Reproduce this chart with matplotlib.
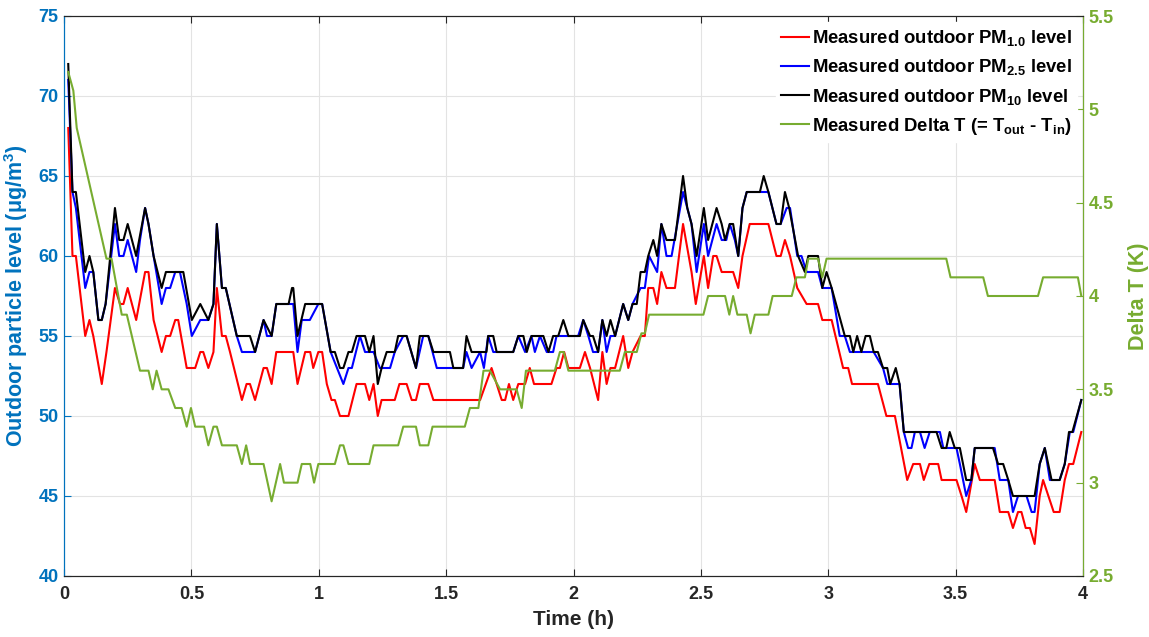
"""Outdoor PM levels and indoor/outdoor temperature difference over a 4 h run."""
import matplotlib

matplotlib.use("Agg")
import matplotlib.pyplot as plt
from matplotlib.ticker import FuncFormatter

# time in minutes
pm10_t = [1.0, 2.0, 2.8, 5.0, 6.0, 6.9, 8.1, 8.9, 9.8, 12.0, 13.0, 14.0, 15.0, 17.0, 19.1, 19.9, 21.1,
          23.0, 24.0, 28.1, 30.1, 32.1, 34.0, 35.2, 36.0, 37.2, 38.1, 40.7, 43.8, 45.0, 47.0, 48.9,
          50.0, 52.9, 53.7, 54.0, 55.0, 56.8, 57.9, 60.8, 62.8, 63.8, 65.0, 65.8, 67.0, 67.8, 68.9,
          70.9, 71.9, 72.9, 73.9, 74.8, 76.0, 77.9, 78.7, 80.7, 82.9, 83.8, 85.8, 87.0, 90.9, 91.7,
          94.0, 94.8, 96.0, 99.5, 99.9, 101.1, 101.9, 105.8, 107.0, 108.2, 109.0, 110.1, 112.9, 114.1,
          115.2, 116.4, 117.6, 118.8, 121.5, 122.3, 123.9, 124.6, 125.8, 126.8, 127.8, 128.7, 129.8,
          131.7, 132.9, 133.9, 134.9, 135.8, 136.8, 137.6, 138.8, 139.7, 140.7, 141.9, 143.9, 145.8,
          146.8, 147.8, 149.0, 150.7, 151.7, 153.7, 154.9, 155.7, 156.8, 157.6, 158.8, 159.8, 160.8,
          163.9, 164.8, 165.9, 167.8, 168.8, 169.8, 170.8, 172.9, 174.5, 175.3, 177.6, 178.6, 179.6,
          180.8, 183.9, 185.1, 185.9, 186.8, 187.8, 188.8, 189.8, 190.7, 191.7, 192.9, 193.9, 194.6,
          195.9, 196.8, 197.8, 205.5, 206.7, 207.8, 208.6, 209.8, 211.0, 212.5, 213.7, 214.5, 218.8,
          220.0, 221.2, 222.4, 223.5, 228.6, 229.8, 231.0, 232.6, 234.5, 235.7, 236.7, 237.5, 239.6]
pm10_v = [72, 64, 64, 59, 60, 59, 56, 56, 57, 63, 61, 61, 62, 60, 63, 62, 60,
          58, 59, 59, 56, 57, 56, 57, 62, 58, 58, 55, 55, 54, 56, 55,
          57, 57, 58, 58, 55, 57, 57, 57, 54, 54, 53, 53, 54, 54, 55,
          55, 54, 55, 52, 53, 54, 54, 55, 55, 53, 55, 55, 54, 54, 53,
          53, 55, 54, 54, 55, 55, 54, 54, 55, 55, 54, 55, 55, 54,
          55, 55, 56, 55, 55, 56, 55, 55, 54, 56, 55, 56, 55,
          57, 56, 57, 57, 59, 59, 60, 61, 60, 62, 61, 61, 65,
          63, 62, 60, 63, 61, 63, 62, 61, 62, 62, 60, 63, 64,
          64, 65, 64, 62, 62, 64, 63, 60, 59, 60, 60, 58, 59,
          58, 55, 55, 54, 55, 54, 55, 55, 54, 54, 53, 53, 52,
          53, 52, 49, 49, 48, 48, 49, 48, 48, 46, 46, 48, 48,
          47, 47, 46, 45, 45, 47, 48, 46, 46, 47, 49, 49, 51]

pm25_t = [1.0, 2.0, 2.8, 5.0, 6.0, 6.9, 8.1, 8.9, 9.8, 12.0, 13.0, 14.0, 15.0, 17.0, 17.9, 19.1, 19.9,
          21.1, 23.0, 24.0, 25.0, 26.2, 27.3, 28.9, 30.1, 32.1, 34.0, 35.2, 36.0, 37.2, 38.1, 40.7,
          41.9, 43.8, 45.0, 47.0, 47.8, 48.9, 50.0, 54.0, 55.0, 56.0, 57.9, 59.9, 60.8, 62.8, 65.8,
          67.0, 67.8, 69.7, 70.9, 72.9, 74.4, 76.8, 77.9, 79.9, 80.7, 82.9, 84.6, 85.8, 87.8, 94.0,
          94.8, 96.0, 98.0, 98.9, 99.9, 101.1, 105.8, 107.0, 108.6, 110.1, 110.9, 112.1, 113.7, 115.2,
          116.0, 118.8, 121.1, 122.3, 123.5, 124.6, 125.8, 126.8, 127.8, 128.7, 129.8, 131.7, 132.9,
          133.9, 135.8, 136.8, 137.8, 139.7, 140.7, 141.9, 143.1, 145.8, 147.8, 149.0, 150.7, 151.7,
          153.7, 154.9, 156.0, 156.8, 158.0, 158.8, 159.8, 160.8, 165.9, 167.8, 168.8, 170.2, 171.0,
          172.7, 173.7, 174.9, 177.6, 178.6, 180.8, 182.7, 183.9, 185.1, 190.7, 192.9, 193.9, 196.8,
          197.8, 198.8, 199.6, 200.4, 201.6, 202.7, 203.9, 206.3, 207.1, 210.2, 211.0, 212.5, 213.7,
          214.5, 219.2, 220.4, 222.4, 223.5, 224.7, 226.7, 227.9, 228.6, 229.8, 231.0, 232.2, 234.5,
          235.7, 236.9, 237.7, 239.6]
pm25_v = [71, 64, 63, 58, 59, 59, 56, 56, 57, 62, 60, 60, 61, 59, 61, 63, 62,
          60, 57, 58, 58, 59, 59, 57, 55, 56, 56, 57, 62, 58, 58, 55,
          54, 54, 54, 56, 55, 55, 57, 57, 54, 56, 56, 57, 57, 54, 52,
          53, 53, 55, 54, 54, 53, 53, 54, 55, 55, 53, 55, 55, 53, 53,
          54, 53, 54, 53, 55, 54, 54, 55, 54, 55, 54, 55, 54, 54,
          55, 55, 55, 56, 55, 54, 54, 56, 54, 55, 55, 57, 56,
          57, 58, 58, 60, 59, 62, 60, 60, 64, 62, 59, 62, 60,
          62, 61, 61, 62, 61, 60, 63, 64, 64, 62, 62, 63, 63,
          60, 60, 59, 59, 58, 58, 55, 55, 54, 54, 53, 52, 52,
          49, 48, 48, 49, 49, 48, 49, 49, 48, 48, 47, 45, 46,
          48, 48, 46, 46, 44, 45, 45, 44, 44, 47, 48, 46, 46,
          47, 49, 49, 51]

pm1_t = [1.0, 2.0, 2.8, 5.0, 6.0, 6.9, 8.9, 10.0, 12.0, 13.2, 14.0, 15.0, 17.0, 19.1, 19.9, 21.1, 23.0,
         24.0, 25.0, 26.2, 26.9, 28.9, 30.9, 32.1, 32.8, 34.0, 35.2, 36.0, 37.2, 38.1, 39.1, 41.9,
         43.0, 43.8, 45.0, 47.0, 47.8, 48.9, 50.0, 54.0, 55.0, 56.8, 58.0, 58.7, 59.9, 60.8, 61.9,
         63.0, 63.8, 65.0, 67.0, 68.9, 70.9, 71.9, 72.9, 73.9, 74.8, 77.9, 79.0, 80.7, 81.9, 82.9,
         83.8, 85.8, 87.0, 98.0, 100.7, 103.1, 103.9, 104.8, 105.8, 107.0, 108.6, 109.7, 110.7, 114.8,
         116.0, 116.8, 117.8, 118.8, 121.5, 122.7, 123.9, 125.8, 126.8, 127.8, 128.7, 129.8, 131.7,
         132.9, 133.9, 135.8, 136.8, 137.6, 138.8, 139.7, 140.7, 141.9, 143.9, 145.8, 147.8, 148.8,
         150.7, 151.7, 152.9, 153.7, 154.9, 157.6, 158.8, 159.8, 161.5, 165.9, 167.8, 168.8, 169.8,
         171.0, 172.7, 174.9, 177.6, 178.6, 180.8, 183.5, 184.7, 185.6, 191.7, 193.7, 195.7, 198.6,
         200.0, 201.6, 202.5, 203.8, 205.9, 206.7, 210.2, 211.4, 212.5, 214.5, 215.7, 219.2, 220.4,
         222.4, 223.5, 224.7, 225.5, 226.5, 227.5, 228.6, 229.8, 230.6, 233.1, 234.5, 235.7, 236.7,
         237.7, 239.6]
pm1_v = [68, 60, 60, 55, 56, 55, 52, 54, 58, 57, 57, 58, 56, 59, 59, 56, 54,
         55, 55, 56, 56, 53, 53, 54, 54, 53, 54, 58, 55, 55, 54, 51,
         52, 52, 51, 53, 53, 52, 54, 54, 52, 54, 54, 53, 54, 54, 52,
         51, 51, 50, 50, 52, 52, 51, 52, 50, 51, 51, 52, 52, 51, 51,
         52, 52, 51, 51, 53, 51, 51, 52, 51, 52, 52, 53, 52, 52,
         53, 53, 54, 53, 53, 54, 53, 51, 54, 52, 53, 53, 55,
         53, 54, 55, 55, 58, 58, 57, 59, 58, 58, 62, 59, 57,
         60, 58, 60, 60, 59, 59, 58, 60, 62, 62, 60, 60, 61,
         60, 58, 57, 57, 56, 56, 53, 53, 52, 52, 50, 50, 46,
         47, 47, 46, 47, 47, 46, 46, 45, 44, 47, 46, 46, 44,
         44, 43, 44, 44, 43, 43, 42, 45, 46, 44, 44, 46, 47,
         47, 49]

dt_t = [1.0, 2.2, 3.0, 10.0, 11.2, 13.6, 14.8, 17.9, 19.9, 20.9, 21.8, 23.0, 24.6, 26.2, 27.7, 28.9,
        29.9, 30.9, 33.0, 34.0, 35.2, 36.0, 37.2, 40.7, 41.9, 42.9, 43.8, 47.0, 48.9, 50.9, 51.8,
        55.0, 56.0, 58.0, 58.9, 59.9, 63.8, 65.0, 65.8, 67.0, 71.9, 72.9, 78.7, 79.9, 82.9, 83.8,
        85.8, 86.8, 94.4, 95.6, 97.6, 98.8, 100.3, 102.7, 106.6, 107.8, 108.8, 115.6, 116.8, 117.7,
        118.8, 130.9, 132.1, 134.9, 136.0, 136.8, 137.8, 150.6, 151.7, 155.7, 156.7, 157.6, 158.6,
        160.8, 161.7, 162.7, 165.9, 166.9, 171.4, 172.5, 174.5, 175.3, 177.6, 178.6, 179.6, 207.8,
        208.8, 216.5, 217.6, 229.4, 230.6, 238.8, 239.6]
dt_v = [5.2, 5.1, 4.9, 4.2, 4.2, 3.9, 3.9, 3.6, 3.6, 3.5, 3.6, 3.5, 3.5, 3.4, 3.4, 3.3,
        3.4, 3.3, 3.3, 3.2, 3.3, 3.3, 3.2, 3.2, 3.1, 3.2, 3.1, 3.1, 2.9, 3.1, 3.0,
        3.0, 3.1, 3.1, 3.0, 3.1, 3.1, 3.2, 3.2, 3.1, 3.1, 3.2, 3.2, 3.3, 3.3, 3.2,
        3.2, 3.3, 3.3, 3.4, 3.4, 3.6, 3.6, 3.5, 3.5, 3.4, 3.6, 3.6, 3.7, 3.7,
        3.6, 3.6, 3.7, 3.7, 3.8, 3.8, 3.9, 3.9, 4.0, 4.0, 3.9, 4.0, 3.9,
        3.9, 3.8, 3.9, 3.9, 4.0, 4.0, 4.1, 4.1, 4.2, 4.2, 4.1, 4.2, 4.2,
        4.1, 4.1, 4.0, 4.0, 4.1, 4.1, 4.0]

LEFT_C = "#0072BD"
RIGHT_C = "#77AC30"
AXIS_C = "#262626"

plt.rcParams["font.family"] = ["Liberation Sans", "DejaVu Sans"]
plt.rcParams["font.weight"] = "bold"
plt.rcParams["mathtext.fontset"] = "custom"
plt.rcParams["mathtext.rm"] = "Liberation Sans"
plt.rcParams["mathtext.bf"] = "Liberation Sans:bold"
plt.rcParams["mathtext.default"] = "bf"

fig = plt.figure(figsize=(11.49, 6.37), dpi=100)
ax = fig.add_axes([64 / 1149, 1 - 576 / 637, 1019 / 1149, 560 / 637])
ax2 = ax.twinx()

h = lambda ts: [x / 60.0 for x in ts]
l1, = ax.plot(h(pm1_t), pm1_v, color="#FF0000", lw=1.5)
l2, = ax.plot(h(pm25_t), pm25_v, color="#0000FF", lw=1.5)
l3, = ax.plot(h(pm10_t), pm10_v, color="black", lw=1.5)
l4, = ax2.plot(h(dt_t), dt_v, color=RIGHT_C, lw=1.5)

ax.set_xlim(0, 4)
ax.set_ylim(40, 75)
ax2.set_ylim(2.5, 5.5)
ax.set_xticks([0, 0.5, 1, 1.5, 2, 2.5, 3, 3.5, 4])
ax.set_yticks(range(40, 76, 5))
ax2.set_yticks([2.5, 3, 3.5, 4, 4.5, 5, 5.5])
fmt = FuncFormatter(lambda v, p: f"{v:g}")
ax.xaxis.set_major_formatter(fmt)
ax2.yaxis.set_major_formatter(fmt)

ax.grid(True, color="#E3E3E3", lw=0.8)
ax.set_axisbelow(True)

for a in (ax, ax2):
    a.tick_params(direction="in", length=5, width=0.8, labelsize=13)
ax.tick_params(axis="x", top=True, colors=AXIS_C, pad=7)
ax.tick_params(axis="y", colors=LEFT_C, pad=4)
ax2.tick_params(axis="y", colors=RIGHT_C, pad=4)

ax.spines["left"].set_color(LEFT_C)
ax2.spines["left"].set_color(LEFT_C)
ax2.spines["right"].set_color(RIGHT_C)
for a in (ax, ax2):
    a.spines["top"].set_color(AXIS_C)
    a.spines["bottom"].set_color(AXIS_C)
    for s in a.spines.values():
        s.set_linewidth(0.8)

ax.set_xlabel("Time (h)", fontsize=15, fontweight="bold", color=AXIS_C, labelpad=5)
ax.set_ylabel(r"Outdoor particle level (μg/m$^{3}$)", fontsize=15.5, fontweight="bold",
              color=LEFT_C, labelpad=6)
ax2.set_ylabel("Delta T (K)", fontsize=15.5, fontweight="bold", color=RIGHT_C, labelpad=10)

labels = [r"Measured outdoor PM$_{1.0}$ level",
          r"Measured outdoor PM$_{2.5}$ level",
          r"Measured outdoor PM$_{10}$ level",
          r"Measured Delta T (= T$_{out}$ - T$_{in}$)"]
leg = ax2.legend([l1, l2, l3, l4], labels, loc="upper right", bbox_to_anchor=(0.998, 0.995),
                 prop={"weight": "bold", "size": 13.3}, frameon=True, fancybox=False,
                 framealpha=1, edgecolor="white", handlelength=1.5, handletextpad=0.15,
                 labelspacing=0.5, borderpad=0.3, borderaxespad=0.2)

fig.savefig("out.png", dpi=100)
